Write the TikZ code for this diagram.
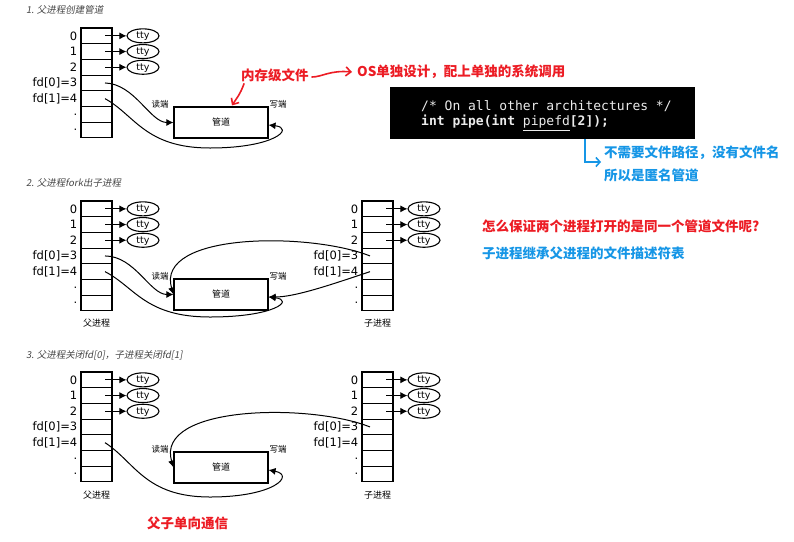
\documentclass[tikz,border=0pt]{standalone}
\usepackage{fontspec}
\setmainfont{DejaVu Sans}
\newfontfamily\cjk{Noto Sans CJK SC}
\newfontfamily\cjkit[FakeSlant=0.18]{Noto Sans CJK SC}
\newfontfamily\codef{DejaVu Sans Mono}
\usetikzlibrary{shapes.geometric,arrows.meta,calc}
\definecolor{annred}{RGB}{236,28,36}
\definecolor{annblue}{RGB}{22,150,230}
\definecolor{titlegray}{RGB}{70,70,70}
\tikzset{
  cell/.style={draw, line width=1.1pt, minimum width=31pt, minimum height=15.7pt, inner sep=0pt},
  rowlab/.style={anchor=east, inner sep=0pt, xshift=-3pt, font=\fontsize{11.5}{12}\selectfont},
  tty/.style={draw, ellipse, line width=1.1pt, minimum width=32pt, minimum height=14pt, inner sep=0pt},
  ttytext/.style={inner sep=0pt, font=\fontsize{9.5}{10}\selectfont},
  fdarrow/.style={-{Latex[length=7pt,width=7pt]}, line width=1pt},
  pipebox/.style={draw, line width=1.1pt, minimum width=94pt, minimum height=31pt, inner sep=0pt, font=\cjk\fontsize{9}{10}\selectfont},
  endlab/.style={inner sep=0pt, font=\cjk\fontsize{8.5}{9}\selectfont},
  plab/.style={inner sep=0pt, font=\cjk\fontsize{9}{10}\selectfont},
  titletxt/.style={anchor=west, inner sep=0pt, text=titlegray, font=\cjkit\fontsize{9.5}{10}\selectfont},
  redtxt/.style={inner sep=0pt, text=annred, font=\cjk\bfseries\fontsize{13.5}{14}\selectfont},
  bluetxt/.style={inner sep=0pt, text=annblue, font=\cjk\bfseries\fontsize{13.5}{14}\selectfont},
  redarr/.style={draw=annred, line width=1.6pt, line cap=round, -{Straight Barb[length=5pt,width=9pt]}},
  bluearr/.style={draw=annblue, line width=1.6pt, -{Straight Barb[length=4pt,width=9pt]}},
  codeline/.style={anchor=west, inner sep=0pt, text=white!92!black, font=\codef\fontsize{13}{14}\selectfont},
}
\newcommand\proctab[3]{%
  \foreach \i in {0,...,6}{\node[cell] (#1\i) at ({#2+15.5},{#3+7.85+15.7*\i}) {};}
  \foreach \i/\lab in {0/0,1/1,2/2,3/{fd[0]=3},4/{fd[1]=4},5/.,6/.}{\node[rowlab] (#1l\i) at (#1\i.west) {\lab};}
  \foreach \i in {0,1,2}{%
    \node[tty] (#1t\i) at ([xshift=46.5pt]#1\i.center) {};
    \node[ttytext, anchor=base] (#1tt\i) at ([yshift=-3pt]#1t\i.center) {tty};
    \draw[fdarrow] ([xshift=8.5pt]#1\i.center) -- (#1t\i);}
}
\begin{document}
\begin{tikzpicture}[x=1pt,y=-1pt]
\useasboundingbox (0,0) rectangle (794,541);

% ---------- Section 1 ----------
\node[titletxt] (t1) at (26,10) {1. 父进程创建管道};
\proctab{a}{81}{28}
\node[pipebox] (p1) at (221,122.5) {管道};
\node[endlab] (p1r) at (160,104) {读端};
\node[endlab] (p1w) at (278,104) {写端};
\draw[fdarrow] ([xshift=8.5pt]a3.center) .. controls (135,84) and (150,122.5) .. (p1.west);
\draw[fdarrow] ([xshift=8.5pt]a4.center) .. controls (135,115) and (145,148) .. (210,148) .. controls (275,148) and (295,128) .. ([yshift=-2.5pt]p1.east);

% annotations
\node[redtxt, anchor=west] (mem) at (241,75) {内存级文件};
\node[redtxt, anchor=west] (os) at (357,72) {OS单独设计，配上单独的系统调用};
\coordinate (memtip) at ([xshift=11pt,yshift=1pt]p1.north);
\draw[redarr] ([xshift=3pt,yshift=-2pt]mem.south west) .. controls (240,95) and (236,99) .. (memtip);
\draw[redarr] ([xshift=3pt,yshift=-2pt]mem.east) .. controls (322,77) and (330,70) .. ([xshift=-5pt]os.west);

\node[fill=black, minimum width=305pt, minimum height=52pt, inner sep=0pt] (code) at (542.5,113) {};
\node[codeline] (cl1) at (421,106) {/* On all other architectures */};
\node[codeline] (cl2) at (421,123) {\textbf{int pipe(int }\underline{pipefd}\textbf{[2]);}};
\coordinate (btip) at (601,162);
\draw[bluearr] ([xshift=42.5pt]code.south) |- (btip);
\node[bluetxt, anchor=west] (b1) at (604,153) {不需要文件路径，没有文件名};
\node[bluetxt, anchor=west] (b2) at (604,175) {所以是匿名管道};

\node[redtxt, anchor=west] (q) at (482,226) {怎么保证两个进程打开的是同一个管道文件呢?};
\node[bluetxt, anchor=west] (ans) at (482,253) {子进程继承父进程的文件描述符表};

% ---------- Section 2 ----------
\node[titletxt] (t2) at (26,183) {2. 父进程fork出子进程};
\proctab{b}{81}{201}
\proctab{c}{362}{201}
\node[pipebox] (p2) at (221,294.5) {管道};
\node[endlab] (p2r) at (160,276) {读端};
\node[endlab] (p2w) at (278,276) {写端};
\node[plab] (b-name) at (96.5,323) {父进程};
\node[plab] (c-name) at (377.5,323) {子进程};
\draw[fdarrow] ([xshift=8.5pt]b3.center) .. controls (135,256) and (150,294.5) .. (p2.west);
\draw[fdarrow] ([xshift=8.5pt]b4.center) .. controls (135,287) and (145,317) .. (210,317) .. controls (275,317) and (295,300) .. ([yshift=-2.5pt]p2.east);
\draw[fdarrow] ([xshift=-7.5pt]c3.center) .. controls (310,232) and (155,232) .. (p2.west);
\draw[fdarrow] ([xshift=-7.5pt]c4.center) .. controls (330,285) and (295,297) .. ([yshift=-2.5pt]p2.east);

% ---------- Section 3 ----------
\node[titletxt] (t3) at (26,355) {3. 父进程关闭fd[0]，子进程关闭fd[1]};
\proctab{d}{81}{372}
\proctab{e}{362}{372}
\node[pipebox] (p3) at (221,467.5) {管道};
\node[endlab] (p3r) at (160,449) {读端};
\node[endlab] (p3w) at (278,449) {写端};
\node[plab] (d-name) at (96.5,495) {父进程};
\node[plab] (e-name) at (377.5,495) {子进程};
\draw[fdarrow] ([xshift=8.5pt]d4.center) .. controls (135,462) and (145,497) .. (210,497) .. controls (275,497) and (295,475) .. ([yshift=-2.5pt]p3.east);
\draw[fdarrow] ([xshift=-7.5pt]e3.center) .. controls (310,403) and (155,405) .. (p3.west);

\node[redtxt] (uni) at (187.5,523) {父子单向通信};
\end{tikzpicture}
\end{document}
